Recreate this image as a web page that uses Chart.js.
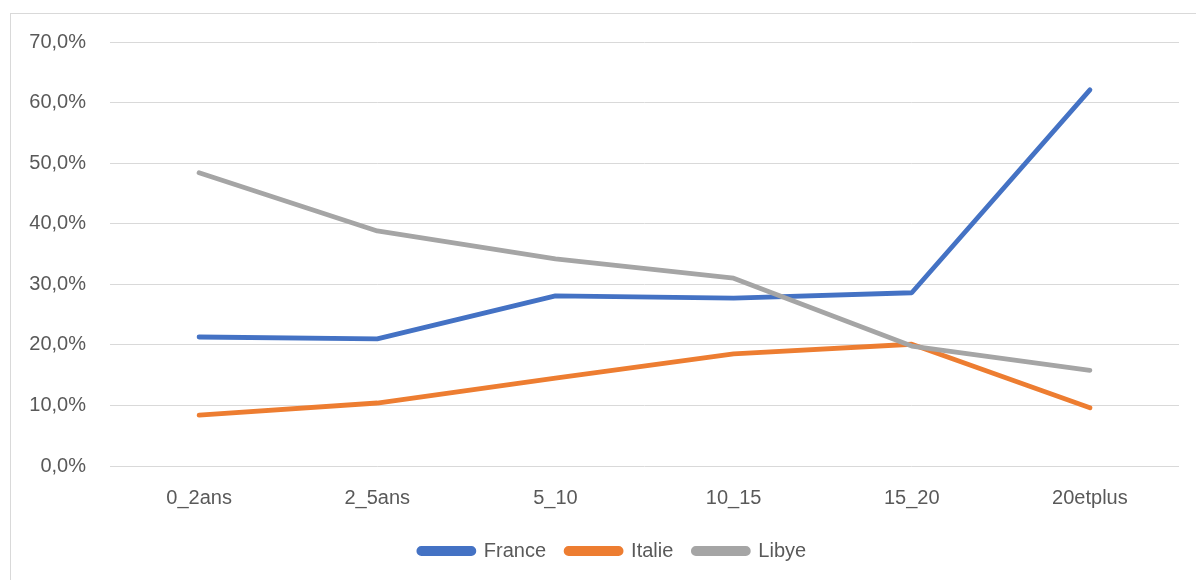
<!DOCTYPE html>
<html>
<head>
<meta charset="utf-8">
<script src="https://cdn.jsdelivr.net/npm/chart.js@4.4.0/dist/chart.umd.min.js"></script>
<style>
  html, body { margin: 0; padding: 0; background: #fff; }
  #frame { position: absolute; left: 10px; top: 13px; width: 1200px; height: 600px;
           border-left: 1px solid #d9d9d9; border-top: 1px solid #d9d9d9; }
  #chart { position: absolute; left: 0; top: 0; }
</style>
</head>
<body>
<div id="frame"></div>
<canvas id="chart" width="1196" height="580"></canvas>
<script>
// --- Données ---
const categories = ['0_2ans', '2_5ans', '5_10', '10_15', '15_20', '20etplus'];
const france = [21.3, 21.0, 28.1, 27.7, 28.6, 62.1];
const italie = [8.4, 10.4, 14.5, 18.5, 20.1, 9.6];
const libye = [48.4, 38.8, 34.2, 31.0, 19.8, 15.8];

const FONT = "'Liberation Sans', Arial, sans-serif";
const TXT = '#595959';

function serie(label, data, color, order) {
  return {
    label, data, order,
    borderColor: color,
    backgroundColor: color,
    borderWidth: 4.8,
    borderCapStyle: 'round',
    borderJoinStyle: 'round',
    pointRadius: 0,
    tension: 0,
    fill: false
  };
}

// la légende est centrée sur la zone du graphique, pas sur tout le canvas
const legendShift = {
  id: 'legendShift',
  afterLayout(chart) {
    if (chart.legend) chart.legend.left += 46;
  }
};

const chart = new Chart(document.getElementById('chart'), {
  type: 'line',
  data: {
    labels: categories,
    datasets: [
      serie('France', france, '#4472C4', 2),
      serie('Italie', italie, '#ED7D31', 1),
      serie('Libye', libye, '#A5A5A5', 0)
    ]
  },
  options: {
    responsive: false,
    animation: false,
    layout: { padding: { top: 42, right: 17, bottom: 9, left: 0 } },
    scales: {
      x: {
        offset: true,
        grid: { display: false },
        border: { display: false },
        ticks: { color: TXT, font: { family: FONT, size: 20 }, padding: 12 },
        afterFit: s => { s.height = 55; }
      },
      y: {
        min: 0, max: 70,
        grid: { color: '#d9d9d9', lineWidth: 1, drawTicks: false },
        border: { display: false },
        ticks: {
          stepSize: 10,
          color: TXT,
          padding: 24,
          font: { family: FONT, size: 20 },
          callback: v => v.toFixed(1).replace('.', ',') + '%'
        },
        afterFit: s => { s.width = 110; }
      }
    },
    plugins: {
      tooltip: { enabled: false },
      legend: {
        position: 'bottom',
        labels: {
          boxWidth: 55,
          boxHeight: 5,
          useBorderRadius: true,
          borderRadius: 2.5,
          padding: 20,
          color: TXT,
          font: { family: FONT, size: 20 },
          sort: (a, b) => a.datasetIndex - b.datasetIndex
        }
      }
    }
  },
  plugins: [legendShift]
});
</script>
</body>
</html>
